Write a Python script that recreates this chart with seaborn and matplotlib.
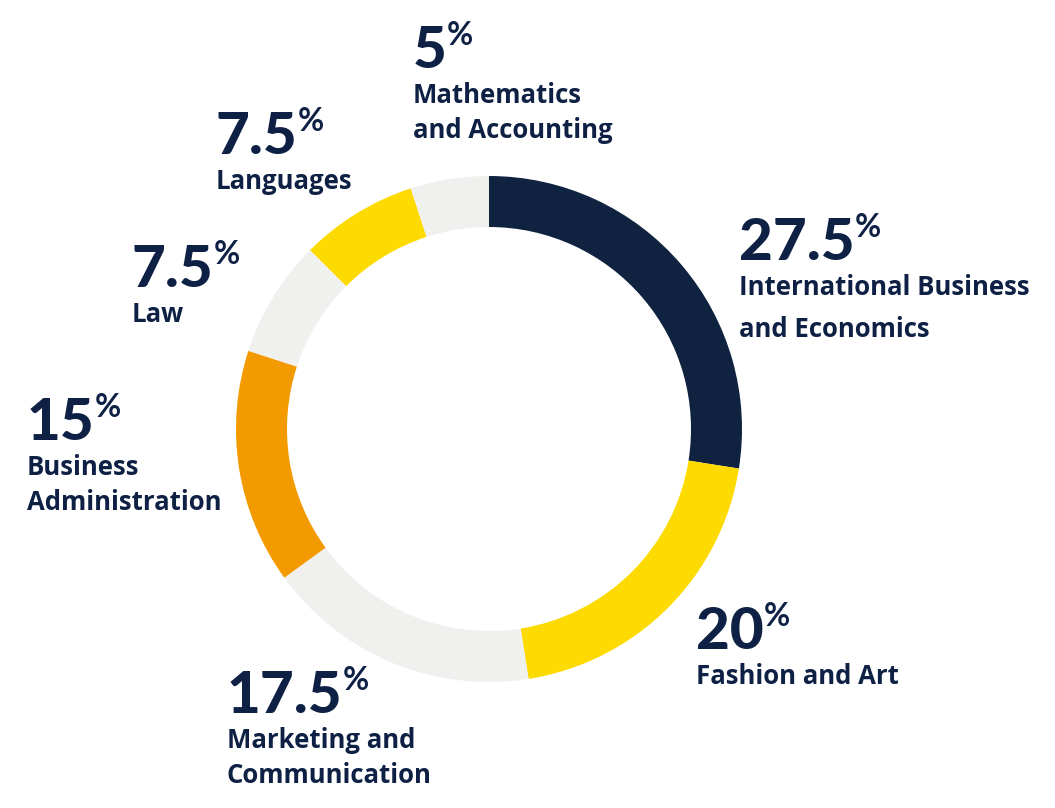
import matplotlib
matplotlib.use("Agg")
import matplotlib.pyplot as plt
import seaborn as sns

# data: shares of students per study field, clockwise from 12 o'clock
fields = ["International Business\nand Economics", "Fashion and Art",
          "Marketing and\nCommunication", "Business\nAdministration",
          "Law", "Languages", "Mathematics\nand Accounting"]
shares = [27.5, 20, 17.5, 15, 7.5, 7.5, 5]
value_labels = ["27.5", "20", "17.5", "15", "7.5", "7.5", "5"]

# styling
sns.set_style("white")
ring_colors = sns.color_palette(["#0f2340", "#fdda00", "#f0f0ee", "#f39a00",
                                 "#f0f0ee", "#fdda00", "#f0f0ee"])
text_color = "#0e2145"
plt.rcParams["font.family"] = ["Lato", "DejaVu Sans"]
caption_font = ["Open Sans", "DejaVu Sans"]

W, H = 1055, 808
fig = plt.figure(figsize=(W / 100, H / 100), dpi=100)
ax = fig.add_axes([0, 0, 1, 1])

# donut in pixel space (y axis flipped, so counterclock=True draws clockwise on screen)
ax.pie(shares, colors=ring_colors, center=(489, 429), radius=253,
       startangle=-90, counterclock=True,
       wedgeprops=dict(width=51, linewidth=0))
ax.set_xlim(0, W)
ax.set_ylim(H, 0)
ax.set_aspect("equal")
ax.axis("off")

# label anchors: (left x, baseline of the big number), and line spacing of the caption
anchors = [(739, 260, 42), (696, 649, 35), (227, 713, 35), (27, 440, 35),
           (132, 287, 35), (216, 154, 35), (413, 68, 35)]

for name, val, (x, y, step) in zip(fields, value_labels, anchors):
    num = ax.text(x, y, val, fontsize=42, fontweight="black",
                  color=text_color, va="baseline", ha="left")
    ax.annotate("%", xy=(1, y - 23), xycoords=(num, "data"),
                xytext=(0, 0), textcoords="offset points",
                fontsize=23, fontweight="bold", color=text_color,
                va="baseline", ha="left")
    for i, line in enumerate(name.split("\n")):
        ax.text(x, y + 35 + i * step, line, fontsize=18.5, fontweight="bold",
                family=caption_font, color=text_color,
                va="baseline", ha="left")

fig.savefig("out.png", dpi=100)
